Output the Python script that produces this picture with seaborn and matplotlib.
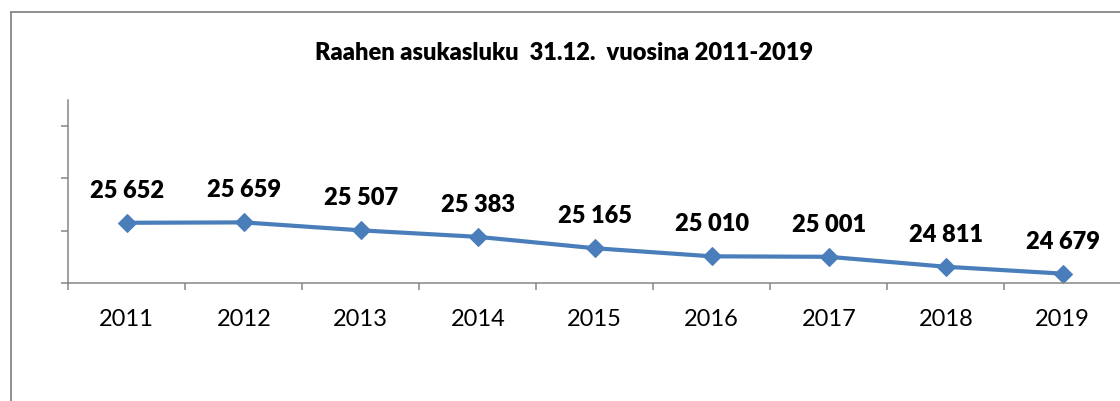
import matplotlib
matplotlib.use("Agg")
import matplotlib.pyplot as plt
from matplotlib.lines import Line2D
import seaborn as sns
import pandas as pd

years = ["2011", "2012", "2013", "2014", "2015", "2016", "2017", "2018", "2019"]
population = [25652, 25659, 25507, 25383, 25165, 25010, 25001, 24811, 24679]
labels = ["25 652", "25 659", "25 507", "25 383", "25 165", "25 010", "25 001", "24 811", "24 679"]
title = "Raahen asukasluku  31.12.  vuosina 2011-2019"

sns.set_theme(style="white")
plt.rcParams["font.family"] = ["Lato", "DejaVu Sans"]

W, H = 1120, 401
fig = plt.figure(figsize=(W / 100, H / 100), dpi=100)
fig.patch.set_facecolor("white")

x0, x1 = 68.3, 1121.3
ytop, ybot = 100, 283
ax = fig.add_axes([x0 / W, 1 - ybot / H, (x1 - x0) / W, (ybot - ytop) / H])

df = pd.DataFrame({"pos": range(len(years)), "value": population})
blue = "#4A7EBB"
sns.lineplot(data=df, x="pos", y="value", ax=ax, color=blue, linewidth=3.0,
             marker="D", markersize=9, markeredgecolor=blue, markerfacecolor=blue)

ax.set_xlim(-0.5, len(years) - 0.5)
ax.set_ylim(24500, 28000)
ax.set_yticks([24500, 25500, 26500, 27500])
ax.set_yticklabels([])
ax.set_xticks(range(len(years)))
ax.set_xticklabels(years, fontsize=17)
ax.set_xticks([i - 0.5 for i in range(len(years) + 1)], minor=True)
ax.tick_params(axis="x", which="major", length=0, pad=18.5, colors="black")
ax.tick_params(axis="x", which="minor", length=5, width=1.1, color="#868686", bottom=True)
ax.tick_params(axis="y", which="major", length=5, width=1.1, color="#868686", left=True)
ax.set_xlabel("")
ax.set_ylabel("")

for s in ["top", "right"]:
    ax.spines[s].set_visible(False)
for s in ["left", "bottom"]:
    ax.spines[s].set_color("#868686")
    ax.spines[s].set_linewidth(1.1)

for i, (v, lab) in enumerate(zip(population, labels)):
    ax.annotate(lab, (i, v), xytext=(0, 23), textcoords="offset points",
                ha="center", va="center", fontsize=17, fontweight="heavy", color="black")

fig.text(564 / W, 1 - 53 / H, title, ha="center", va="center",
         fontsize=17, fontweight="heavy", color="black")

border = "#878787"
fig.add_artist(Line2D([11 / W, 11 / W], [0, 1 - 12 / H], transform=fig.transFigure,
                      color=border, linewidth=1.3))
fig.add_artist(Line2D([11 / W, 1], [1 - 12 / H, 1 - 12 / H], transform=fig.transFigure,
                      color=border, linewidth=1.3))

fig.savefig("out.png", dpi=100, facecolor="white")
